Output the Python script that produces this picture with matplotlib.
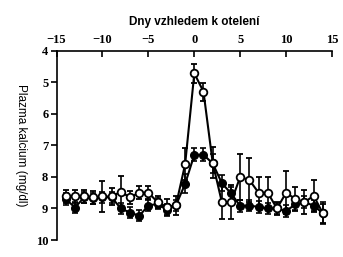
import matplotlib
matplotlib.use('Agg')
import matplotlib.pyplot as plt
import numpy as np

# days relative to calving
days = np.arange(-14, 15)

# open circles
ca_open = [8.62, 8.62, 8.62, 8.65, 8.62, 8.62, 8.47, 8.65, 8.50, 8.50,
           8.80, 8.95, 8.90, 7.60, 4.72, 5.30, 7.55, 8.80, 8.80, 8.00,
           8.10, 8.50, 8.50, 9.00, 8.50, 8.70, 8.80, 8.60, 9.15]
err_open = [0.20, 0.20, 0.20, 0.20, 0.48, 0.26, 0.50, 0.20, 0.20, 0.20,
            0.20, 0.25, 0.30, 0.50, 0.30, 0.28, 0.50, 0.53, 0.53, 0.72,
            0.70, 0.50, 0.50, 0.20, 0.68, 0.38, 0.38, 0.50, 0.30]

# filled circles
ca_fill = [8.70, 8.97, 8.65, 8.68, 8.65, 8.65, 9.00, 9.13, 9.23, 8.91,
           8.85, 9.05, 8.90, 8.22, 7.30, 7.30, 7.57, 8.20, 8.52, 8.92,
           8.91, 8.95, 9.00, 9.00, 9.08, 8.87, 8.80, 8.91, 9.15]
err_fill = [0.18, 0.18, 0.18, 0.18, 0.18, 0.18, 0.18, 0.18, 0.18, 0.18,
            0.18, 0.18, 0.18, 0.30, 0.20, 0.20, 0.30, 0.25, 0.20, 0.18,
            0.18, 0.18, 0.18, 0.18, 0.18, 0.18, 0.18, 0.18, 0.35]

xticks = [-15, -10, -5, 0, 5, 10, 15]
yticks = [4, 5, 6, 7, 8, 9, 10]

fig = plt.figure(figsize=(3.43, 2.57), dpi=100)
ax = fig.add_axes([0.165, 0.066, 0.803, 0.737])

ax.errorbar(days, ca_fill, yerr=err_fill, color='black', lw=1.5,
            marker='o', ms=5.5, mfc='black', mec='black',
            capsize=2.5, elinewidth=1.2, capthick=1.2, zorder=3)
ax.errorbar(days, ca_open, yerr=err_open, color='black', lw=1.5,
            marker='o', ms=5.5, mfc='white', mec='black', mew=1.3,
            capsize=2.5, elinewidth=1.2, capthick=1.2, zorder=4)

ax.set_xlim(-15, 15)
ax.set_ylim(10, 4)
ax.set_xticks(xticks)
ax.set_yticks(yticks)
ax.set_xticklabels(['\u2212' + str(-t) if t < 0 else str(t) for t in xticks],
                   fontfamily='Liberation Serif', fontweight='bold', fontsize=9)
ax.set_yticklabels([str(t) for t in yticks],
                   fontfamily='Liberation Serif', fontweight='bold', fontsize=9)

ax.xaxis.tick_top()
ax.xaxis.set_label_position('top')
ax.spines['right'].set_visible(False)
ax.spines['bottom'].set_visible(False)
for s in ['left', 'top']:
    ax.spines[s].set_linewidth(1.2)
ax.tick_params(axis='x', direction='in', length=4, width=1.2, pad=3)
ax.tick_params(axis='y', direction='out', length=4, width=1.2, pad=2)

ax.set_xlabel('Dny vzhledem k otelení', fontfamily='Liberation Sans',
              fontweight='bold', fontsize=8.5, labelpad=7)
ax.set_ylabel('Plazma kalcium (mg/dl)', fontfamily='Liberation Sans',
              fontsize=8.5, rotation=270, va='center', ha='center')
ax.yaxis.set_label_coords(-0.13, 0.5)

fig.savefig('out.png', dpi=100)
